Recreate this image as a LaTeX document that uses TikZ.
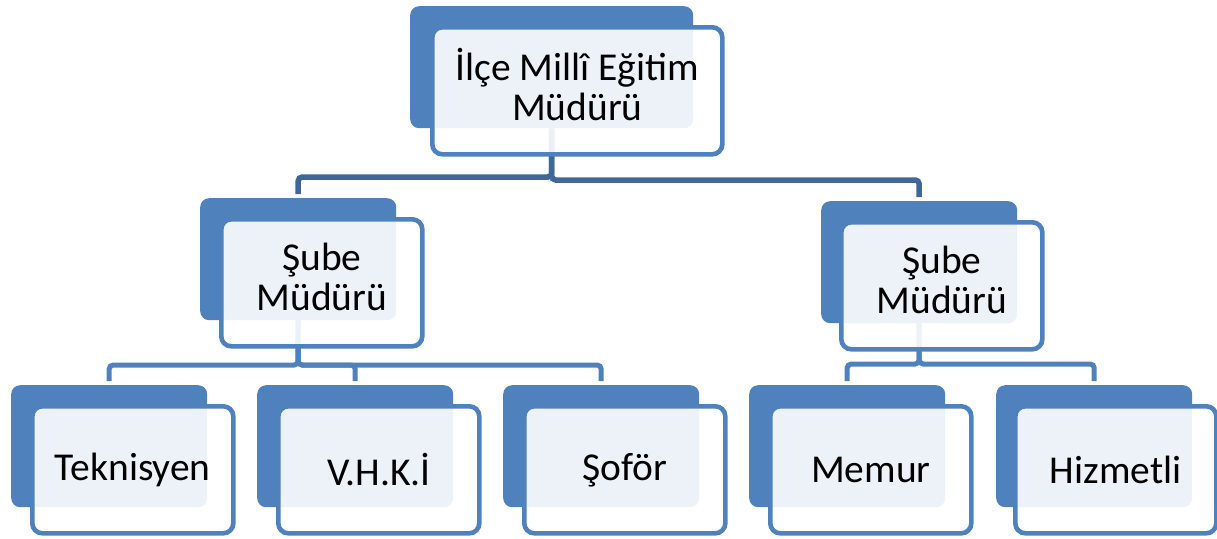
\documentclass[tikz,border=0pt]{standalone}
\usepackage{fontspec}
\setmainfont{Carlito}
\definecolor{accent}{HTML}{4F81BD}
\definecolor{darkline}{HTML}{3F6797}
\pgfdeclarelayer{background}
\pgfsetlayers{background,main}
\newcommand{\twolines}[2]{\raisebox{3pt}{\begin{tabular}{@{}c@{}}#1\\#2\end{tabular}}}
\begin{document}
\begin{tikzpicture}[x=1pt,y=-1pt,
  backbox/.style={rectangle, rounded corners=9pt, fill=accent, minimum width=196pt, minimum height=122pt, inner sep=0pt, anchor=north west},
  frontbox/.style={rectangle, rounded corners=10pt, draw=accent, line width=4.6pt, fill=white, fill opacity=0.9, text opacity=1, minimum width=201pt, minimum height=127pt, inner sep=0pt, anchor=north west, align=center, font=\fontsize{39.5}{40}\selectfont},
  conntop/.style={draw=darkline, line width=5.5pt, rounded corners=4pt, shorten >=4pt},
  connsub/.style={draw=accent, line width=5pt, rounded corners=4pt, shorten >=4pt}]
\useasboundingbox (0,0) rectangle (1217,538);

% top
\node[backbox, minimum width=283pt] (topB) at (410,6) {};
\node[frontbox, minimum width=290pt] (top) at (430,25) {\twolines{İlçe Millî Eğitim}{Müdürü}};
% level 2
\node[backbox] (lsB) at (200,198) {};
\node[frontbox] (ls) at (219,217) {\twolines{Şube}{Müdürü}};
\node[backbox] (rsB) at (821,201) {};
\node[frontbox] (rs) at (839,220) {\twolines{Şube}{Müdürü}};
% level 3
\node[backbox] (tekB) at (11,385) {};
\node[frontbox] (tek) at (30,404) {Teknisyen};
\node[backbox] (vhkB) at (257,385) {};
\node[frontbox] (vhk) at (276,404) {V.H.K.İ};
\node[backbox] (sofB) at (503,385) {};
\node[frontbox] (sof) at (522,404) {Şoför};
\node[backbox] (memB) at (749,385) {};
\node[frontbox] (mem) at (768,404) {Memur};
\node[backbox] (hizB) at (996,385) {};
\node[frontbox] (hiz) at (1013,404) {Hizmetli};

\begin{pgfonlayer}{background}
\draw[conntop] (topB.south) -- (topB.south |- 0,177) -| (lsB.north);
\draw[conntop] (topB.south) -- (topB.south |- 0,180) -| (rsB.north);
\draw[connsub] (lsB.south) -- (lsB.south |- 0,365) -| (tekB.north);
\draw[connsub] (lsB.south) -- (lsB.south |- 0,365) -| (vhkB.north);
\draw[connsub] (lsB.south) -- (lsB.south |- 0,365) -| (sofB.north);
\draw[connsub] (rsB.south) -- (rsB.south |- 0,364) -| (memB.north);
\draw[connsub] (rsB.south) -- (rsB.south |- 0,364) -| (hizB.north);
\end{pgfonlayer}
\end{tikzpicture}
\end{document}
